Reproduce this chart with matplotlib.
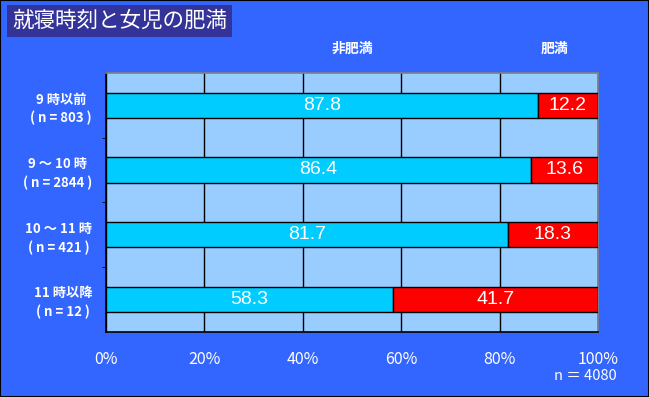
import matplotlib.pyplot as plt
from matplotlib.patches import Rectangle

plt.rcParams['font.family'] = ['Noto Sans CJK JP', 'DejaVu Sans']

categories = ['9 時以前\n( n = 803 )', '9 ～ 10 時\n( n = 2844 )',
              '10 ～ 11 時\n( n = 421 )', '11 時以降\n( n = 12 )']
non_obese = [87.8, 86.4, 81.7, 58.3]
obese = [12.2, 13.6, 18.3, 41.7]
x_ticks = [0, 20, 40, 60, 80, 100]
x_labels = ['0%', '20%', '40%', '60%', '80%', '100%']

fig = plt.figure(figsize=(6.49, 3.97), dpi=100)
fig.patch.set_facecolor('#3366FF')
fig.patches.append(Rectangle((0, 0), 1, 1, transform=fig.transFigure,
                             fill=False, edgecolor='black', linewidth=1.5))

ax = fig.add_axes([106 / 649, (397 - 331.5) / 397, 492 / 649, 258.5 / 397])
ax.set_facecolor('#99CCFF')

ypos = list(range(len(categories)))
h = 0.39
ax.barh(ypos, non_obese, height=h, color='#00CCFF', edgecolor='black', linewidth=1, zorder=3)
ax.barh(ypos, obese, left=non_obese, height=h, color='#FF0000', edgecolor='black', linewidth=1, zorder=3)

for y, a, b in zip(ypos, non_obese, obese):
    ax.text(a / 2, y, f'{a:.1f}', ha='center', va='center', color='white',
            fontsize=14, family='Liberation Sans', zorder=4)
    ax.text(a + b / 2, y, f'{b:.1f}', ha='center', va='center', color='white',
            fontsize=14, family='Liberation Sans', zorder=4)

ax.set_xlim(0, 100)
ax.set_ylim(len(categories) - 0.5, -0.5)
ax.set_xticks(x_ticks)
ax.set_xticklabels(x_labels, color='white', fontsize=11.5)
ax.tick_params(axis='x', length=0, pad=14)
ax.set_yticks(ypos)
ax.set_yticklabels(categories, color='white', fontsize=9.5, fontweight='bold',
                   multialignment='center', linespacing=1.4)
ax.tick_params(axis='y', length=0, pad=10)
ax.set_yticks([0.5, 1.5, 2.5], minor=True)
ax.tick_params(axis='y', which='minor', length=3, color='black', direction='out')

ax.grid(axis='x', color='black', linewidth=1)
ax.set_axisbelow(True)
ax.spines['left'].set_color('black')
ax.spines['bottom'].set_color('black')
ax.spines['top'].set_color('#808080')
ax.spines['right'].set_color('#808080')
for s in ax.spines.values():
    s.set_linewidth(1.2)

# title box
fig.text(12 / 649, 1 - 21 / 397, '就寝時刻と女児の肥満', color='white', fontsize=15.5,
         va='center', ha='left',
         bbox=dict(boxstyle='square,pad=0.22', facecolor='#333399', edgecolor='none'))

# legend-like labels
fig.text(352 / 649, 1 - 49 / 397, '非肥満', color='white', fontsize=10, fontweight='bold',
         ha='center', va='center')
fig.text(555 / 649, 1 - 49 / 397, '肥満', color='white', fontsize=10, fontweight='bold',
         ha='center', va='center')

fig.text(617 / 649, 1 - 376 / 397, 'n ＝ 4080', color='white', fontsize=10.5,
         ha='right', va='center')

fig.savefig('out.png', dpi=100, facecolor=fig.get_facecolor())
